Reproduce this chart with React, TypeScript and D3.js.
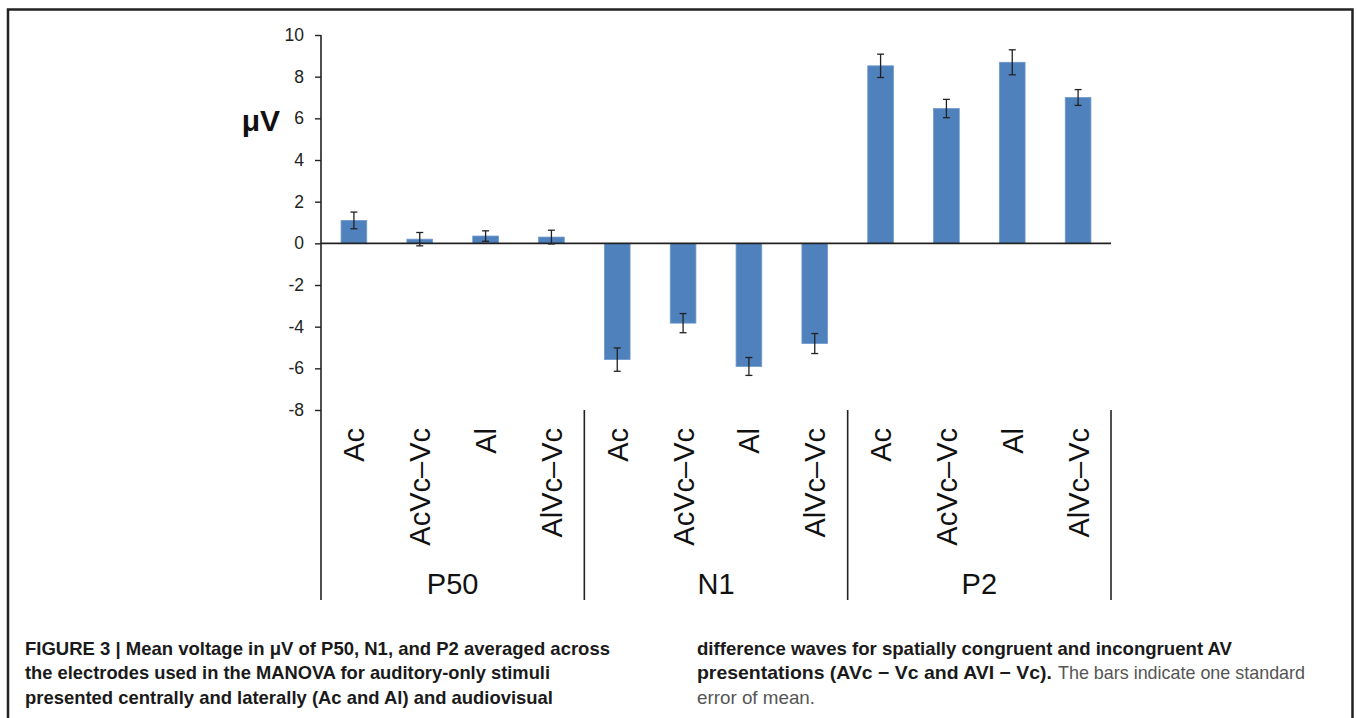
import React from "react";
import * as d3 from "d3";

// ERP components and conditions
const groups = ["P50", "N1", "P2"];
const conditions = ["Ac", "AcVc\u2013Vc", "Al", "AlVc\u2013Vc"];

// mean voltage (µV) per component, in condition order
const meanP50 = [1.1, 0.2, 0.35, 0.3];
const meanN1 = [-5.58, -3.83, -5.91, -4.81];
const meanP2 = [8.52, 6.47, 8.69, 7.0];

// standard error of mean
const seP50 = [0.4, 0.32, 0.25, 0.33];
const seN1 = [0.56, 0.46, 0.43, 0.48];
const seP2 = [0.56, 0.44, 0.6, 0.38];

const yTicks = [-8, -6, -4, -2, 0, 2, 4, 6, 8, 10];

const captionLeft = [
  "FIGURE 3 | Mean voltage in \u03bcV of P50, N1, and P2 averaged across",
  "the electrodes used in the MANOVA for auditory-only stimuli",
  "presented centrally and laterally (Ac and Al) and audiovisual",
];
const captionRight1 = "difference waves for spatially congruent and incongruent AV";
const captionRight2Bold = "presentations (AVc \u2212 Vc and AVI \u2212 Vc).";
const captionRight2 = "The bars indicate one standard";
const captionRight3 = "error of mean.";

const W = 1357;
const H = 718;
const FONT = "'Liberation Sans', Arial, sans-serif";
const NARROW = "'Liberation Sans Narrow', 'Arial Narrow', 'Liberation Sans', Arial, sans-serif";

export default function App() {
  const svgRef = React.useRef<SVGSVGElement>(null);

  React.useLayoutEffect(() => {
    const svg = d3.select(svgRef.current);
    svg.selectAll("*").remove();

    const means = [meanP50, meanN1, meanP2];
    const ses = [seP50, seN1, seP2];
    const rows = groups.flatMap((g, gi) =>
      conditions.map((c, ci) => ({ key: g + "-" + c, group: g, cond: c, mean: means[gi][ci], se: ses[gi][ci] }))
    );

    const x = d3.scaleBand<string>()
      .domain(rows.map(d => d.key))
      .range([321, 1111])
      .paddingInner(0.61)
      .paddingOuter(0.305);
    const y = d3.scaleLinear().domain([-8, 10]).range([410, 35]);
    const bottom = 600;
    const ink = "#222";

    // frame (open at the bottom)
    svg.append("path")
      .attr("d", `M8,${H + 20}V9.5H1352.5V${H + 20}`)
      .attr("fill", "none")
      .attr("stroke", ink)
      .attr("stroke-width", 2.5);

    // bars
    svg.append("g")
      .selectAll("rect")
      .data(rows)
      .join("rect")
        .attr("x", d => x(d.key)!)
        .attr("y", d => Math.min(y(0), y(d.mean)))
        .attr("width", x.bandwidth())
        .attr("height", d => Math.abs(y(d.mean) - y(0)))
        .attr("fill", "#4f81bd")
        .attr("stroke", "#6f98cc")
        .attr("stroke-width", 0.8);

    // error bars
    const eb = svg.append("g").attr("stroke", ink).attr("stroke-width", 1.3);
    rows.forEach(d => {
      const cx = x(d.key)! + x.bandwidth() / 2;
      const y1 = y(d.mean + d.se);
      const y2 = y(d.mean - d.se);
      eb.append("line").attr("x1", cx).attr("x2", cx).attr("y1", y1).attr("y2", y2);
      eb.append("line").attr("x1", cx - 3.5).attr("x2", cx + 3.5).attr("y1", y1).attr("y2", y1);
      eb.append("line").attr("x1", cx - 3.5).attr("x2", cx + 3.5).attr("y1", y2).attr("y2", y2);
    });

    // zero line
    svg.append("line")
      .attr("x1", x.range()[0]).attr("x2", x.range()[1])
      .attr("y1", y(0)).attr("y2", y(0))
      .attr("stroke", ink).attr("stroke-width", 1.6);

    // y axis
    const gy = svg.append("g")
      .attr("transform", `translate(${x.range()[0]},0)`)
      .call(d3.axisLeft(y).tickValues(yTicks).tickSize(6).tickSizeOuter(0).tickPadding(11).tickFormat(d => String(d)));
    gy.select(".domain").remove();
    gy.selectAll(".tick line").attr("stroke", ink).attr("stroke-width", 1.4);
    gy.selectAll(".tick text")
      .attr("font-family", FONT)
      .attr("font-size", 17.5)
      .attr("fill", ink);
    svg.append("line")
      .attr("x1", x.range()[0]).attr("x2", x.range()[0])
      .attr("y1", y(10)).attr("y2", bottom)
      .attr("stroke", ink).attr("stroke-width", 1.6);

    svg.append("text")
      .attr("x", 280).attr("y", 131)
      .attr("text-anchor", "end")
      .attr("font-family", FONT)
      .attr("font-weight", "bold")
      .attr("font-size", 30)
      .attr("fill", "#111")
      .text("\u03bcV");

    // group separators
    const step = x.step();
    groups.forEach((g, gi) => {
      const gx = x.range()[0] + (gi + 1) * conditions.length * step;
      svg.append("line")
        .attr("x1", gx).attr("x2", gx)
        .attr("y1", y(-8)).attr("y2", bottom)
        .attr("stroke", ink).attr("stroke-width", 1.6);
      svg.append("text")
        .attr("x", x.range()[0] + (gi + 0.5) * conditions.length * step)
        .attr("y", 594)
        .attr("text-anchor", "middle")
        .attr("font-family", FONT)
        .attr("font-size", 29)
        .attr("fill", "#111")
        .text(g);
    });

    // condition labels (rotated)
    svg.append("g")
      .selectAll("text")
      .data(rows)
      .join("text")
        .attr("transform", d => `translate(${x(d.key)! + x.bandwidth() / 2},428) rotate(-90)`)
        .attr("dy", "0.36em")
        .attr("text-anchor", "end")
        .attr("font-family", FONT)
        .attr("font-size", 29)
        .attr("fill", "#111")
        .text(d => d.cond);

    // caption
    const cap = svg.append("g").attr("font-family", NARROW).attr("font-size", 18.5);
    const leftEnds = [610, 550, 553];
    captionLeft.forEach((t, i) => {
      cap.append("text")
        .attr("x", 25).attr("y", 654.5 + i * 24.5)
        .attr("font-weight", "bold").attr("fill", "#1a1a1a")
        .attr("textLength", leftEnds[i] - 25)
        .attr("lengthAdjust", "spacingAndGlyphs")
        .text(t);
    });
    cap.append("text")
      .attr("x", 697).attr("y", 654.5)
      .attr("font-weight", "bold").attr("fill", "#1a1a1a")
      .attr("textLength", 1232 - 697).attr("lengthAdjust", "spacingAndGlyphs")
      .text(captionRight1);
    cap.append("text")
      .attr("x", 697).attr("y", 679)
      .attr("font-weight", "bold").attr("fill", "#1a1a1a")
      .attr("textLength", 1052 - 697).attr("lengthAdjust", "spacingAndGlyphs")
      .text(captionRight2Bold);
    cap.append("text")
      .attr("x", 1058).attr("y", 679)
      .attr("fill", "#555")
      .attr("textLength", 1305 - 1058).attr("lengthAdjust", "spacingAndGlyphs")
      .text(captionRight2);
    cap.append("text")
      .attr("x", 697).attr("y", 703.5)
      .attr("fill", "#555")
      .attr("textLength", 815 - 697).attr("lengthAdjust", "spacingAndGlyphs")
      .text(captionRight3);
  }, []);

  return (
    <svg
      ref={svgRef}
      width={W}
      height={H}
      style={{ position: "absolute", left: 0, top: 0, background: "#fff", display: "block" }}
    />
  );
}
